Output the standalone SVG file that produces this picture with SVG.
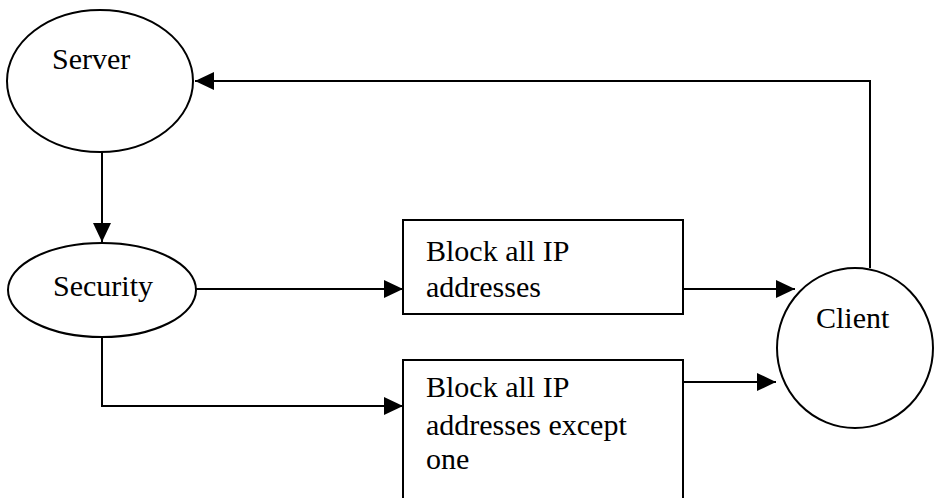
<svg xmlns="http://www.w3.org/2000/svg" width="934" height="498" viewBox="0 0 934 498">
  <style>
    .shape { fill: #fff; stroke: #000; stroke-width: 2; }
    .edge { fill: none; stroke: #000; stroke-width: 2; }
    .label { font-family: "Liberation Serif", "Times New Roman", serif; font-size: 30px; fill: #000; }
  </style>
  <defs>
    <marker id="arrow" markerUnits="userSpaceOnUse" markerWidth="20" markerHeight="20" refX="19" refY="10" orient="auto">
      <path d="M0,1 L19,10 L0,19 Z" fill="#000"/>
    </marker>
  </defs>
  <rect width="934" height="498" fill="#fff"/>

  <g id="connectors">
    <!-- Client back to Server -->
    <path class="edge" d="M870,268 L870,81 L195,81" marker-end="url(#arrow)"/>
    <!-- Server to Security -->
    <path class="edge" d="M102,152 L102,242" marker-end="url(#arrow)"/>
    <!-- Security to first filter -->
    <path class="edge" d="M196,289 L403,289" marker-end="url(#arrow)"/>
    <!-- Security to second filter -->
    <path class="edge" d="M102,337 L102,406 L403,406" marker-end="url(#arrow)"/>
    <!-- Filters to Client -->
    <path class="edge" d="M683,289 L795,289" marker-end="url(#arrow)"/>
    <path class="edge" d="M683,382 L776,382" marker-end="url(#arrow)"/>
  </g>

  <g id="server">
    <ellipse class="shape" cx="100" cy="81" rx="93" ry="71"/>
    <text class="label" x="52" y="69">Server</text>
  </g>

  <g id="security">
    <ellipse class="shape" cx="102" cy="290" rx="94" ry="47"/>
    <text class="label" x="53" y="296">Security</text>
  </g>

  <g id="block-all">
    <rect class="shape" x="403" y="220" width="280" height="94"/>
    <text class="label" x="426" y="261">Block all IP</text>
    <text class="label" x="426" y="297">addresses</text>
  </g>

  <g id="block-all-except-one">
    <rect class="shape" x="403" y="360" width="280" height="160"/>
    <text class="label" x="426" y="397">Block all IP</text>
    <text class="label" x="426" y="435">addresses except</text>
    <text class="label" x="426" y="469">one</text>
  </g>

  <g id="client">
    <ellipse class="shape" cx="855" cy="348" rx="78" ry="80"/>
    <text class="label" x="816" y="328">Client</text>
  </g>
</svg>
